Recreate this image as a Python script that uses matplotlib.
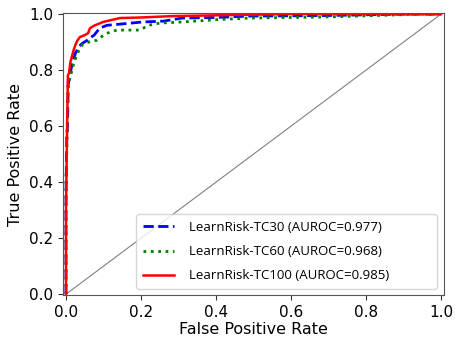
import matplotlib
matplotlib.use("Agg")
import matplotlib.pyplot as plt

# ROC curve points
fpr_tc30 = [0.0, 0.0, 0.002, 0.004, 0.006, 0.010, 0.016, 0.025, 0.035, 0.045, 0.055, 0.064, 0.075, 0.090, 0.109, 0.150, 0.205, 0.260, 0.310, 0.400, 0.490, 0.700, 0.900, 1.0]
tpr_tc30 = [0.0, 0.35, 0.56, 0.60, 0.75, 0.78, 0.82, 0.86, 0.885, 0.897, 0.905, 0.915, 0.925, 0.950, 0.960, 0.965, 0.972, 0.975, 0.986, 0.988, 0.993, 0.995, 1.0, 1.0]

fpr_tc60 = [0.0, 0.0, 0.002, 0.004, 0.006, 0.012, 0.020, 0.030, 0.043, 0.060, 0.083, 0.100, 0.117, 0.136, 0.197, 0.220, 0.250, 0.310, 0.400, 0.490, 0.700, 0.950, 1.0]
tpr_tc60 = [0.0, 0.42, 0.50, 0.65, 0.75, 0.78, 0.82, 0.86, 0.89, 0.90, 0.907, 0.925, 0.936, 0.943, 0.943, 0.960, 0.968, 0.972, 0.980, 0.986, 0.990, 1.0, 1.0]

fpr_tc100 = [0.0, 0.0, 0.003, 0.005, 0.008, 0.012, 0.020, 0.025, 0.030, 0.037, 0.050, 0.059, 0.064, 0.077, 0.099, 0.144, 0.200, 0.285, 0.450, 0.600, 1.0]
tpr_tc100 = [0.0, 0.30, 0.60, 0.78, 0.79, 0.83, 0.87, 0.89, 0.905, 0.918, 0.925, 0.932, 0.950, 0.960, 0.972, 0.986, 0.988, 0.993, 0.997, 1.0, 1.0]

labels = ["LearnRisk-TC30 (AUROC=0.977)",
          "LearnRisk-TC60 (AUROC=0.968)",
          "LearnRisk-TC100 (AUROC=0.985)"]

ticks = [0.0, 0.2, 0.4, 0.6, 0.8, 1.0]

fig = plt.figure(figsize=(4.56, 3.38), dpi=100)
ax = fig.add_axes([63/456, 1 - 295/338, (444-63)/456, (295-13)/338])

ax.plot([0, 1], [0, 1], color="gray", linewidth=0.8)
ax.plot(fpr_tc30, tpr_tc30, color="blue", linestyle="--", linewidth=2, label=labels[0])
ax.plot(fpr_tc60, tpr_tc60, color="green", linestyle=":", linewidth=2, label=labels[1])
ax.plot(fpr_tc100, tpr_tc100, color="red", linestyle="-", linewidth=1.8, label=labels[2])

ax.set_xlim(-0.008, 1.008)
ax.set_ylim(-0.003, 1.004)
ax.set_xticks(ticks)
ax.set_yticks(ticks)
ax.set_xticklabels([f"{t:.1f}" for t in ticks])
ax.set_yticklabels([f"{t:.1f}" for t in ticks])
ax.tick_params(labelsize=11, color="#333333")
for s in ax.spines.values():
    s.set_color("#555555")

ax.set_xlabel("False Positive Rate", fontsize=11.5, labelpad=2)
ax.set_ylabel("True Positive Rate", fontsize=11.5, labelpad=4)

leg = ax.legend(loc="lower left", mode="expand",
                bbox_to_anchor=(0.1916, 0.0213, 0.79, 0.27), borderaxespad=0,
                prop={"family": "Open Sans", "size": 9.5},
                handlelength=2.4, labelspacing=0.85, borderpad=0.5,
                handletextpad=1.1)

fig.savefig("out.png", dpi=100)
